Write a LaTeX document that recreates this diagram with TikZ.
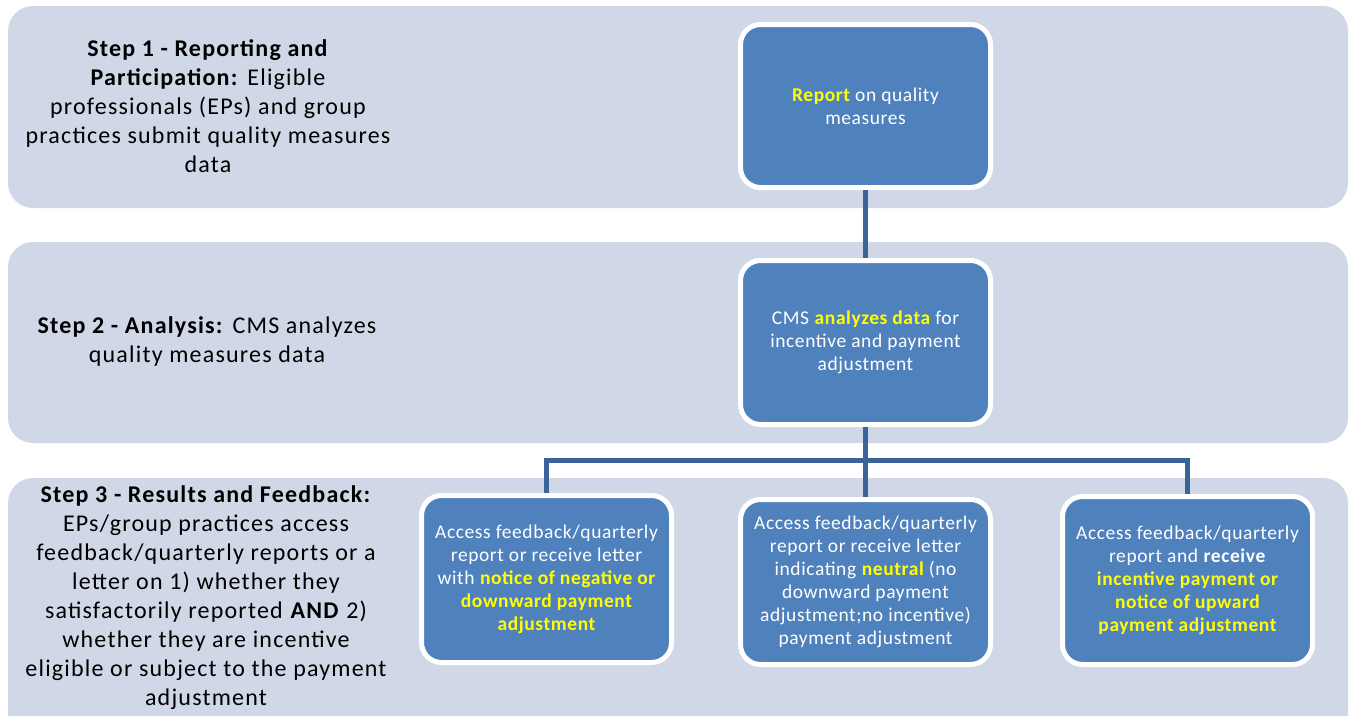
\documentclass[tikz,border=0pt]{standalone}
\usepackage{fontspec}
\setmainfont{Carlito}
\newfontfamily\bandfont[LetterSpace=5]{Carlito}
\newfontfamily\boxfont[LetterSpace=3]{Carlito}
\definecolor{bandfill}{HTML}{D0D8E7}
\definecolor{boxfill}{HTML}{4F81BD}
\definecolor{connblue}{HTML}{3A6497}
\definecolor{hlyellow}{HTML}{FFFF00}
\newcommand{\yb}[1]{\textbf{\textcolor{hlyellow}{#1}}}
\tikzset{
  band/.style={fill=bandfill, draw=none, rounded corners=25pt},
  bandtext/.style={align=center, font=\bandfont\fontsize{24}{29}\selectfont, text=black, inner sep=0pt},
  stepbox/.style={rectangle, fill=boxfill, draw=white, line width=5pt, rounded corners=20pt,
    minimum width=250pt, align=center, text=white, font=\boxfont\fontsize{19.5}{23}\selectfont},
  conn/.style={draw=connblue, line width=5pt}
}
\begin{document}
\begin{tikzpicture}[x=1pt,y=-1pt]
\useasboundingbox (0,0) rectangle (1351,715);
\fill[white] (0,0) rectangle (1351,715);
\begin{scope}
\clip (0,0) rectangle (1351,715);
\fill[band] (8,6) rectangle (1348,208);
\fill[band] (8,242) rectangle (1348,443);
\fill[band] (8,478) rectangle (1348,760);
\end{scope}

\node[bandtext] (t1) at (208,106) {\textbf{Step 1 - Reporting and}\\\textbf{Participation:} Eligible\\professionals (EPs) and group\\practices submit quality measures\\data};
\node[bandtext] (t2) at (207,342) {\textbf{Step 2 - Analysis:} CMS analyzes\\quality measures data};
\node[bandtext] (t3) at (206,598) {\textbf{Step 3 - Results and Feedback:}\\EPs/group practices access\\feedback/quarterly reports or a\\letter on 1) whether they\\satisfactorily reported \textbf{AND} 2)\\whether they are incentive\\eligible or subject to the payment\\adjustment};

\node[stepbox, minimum height=163pt] (b1) at (865.5,106) {\yb{Report} on quality\\measures};
\node[stepbox, minimum height=164pt] (b2) at (865.5,342.5) {CMS \yb{analyzes data} for\\incentive and payment\\adjustment};
\node[stepbox, minimum height=167pt] (c1) at (546.5,579) {Access feedback/quarterly\\report or receive letter\\with \yb{notice of negative or}\\\yb{downward payment}\\\yb{adjustment}};
\node[stepbox, minimum height=165pt] (c2) at (865.5,582) {Access feedback/quarterly\\report or receive letter\\indicating \yb{neutral} (no\\downward payment\\adjustment;no incentive)\\payment adjustment};
\node[stepbox, minimum height=168pt] (c3) at (1187.5,580.5) {Access feedback/quarterly\\report and \textbf{receive}\\\yb{incentive payment or}\\\yb{notice of upward}\\\yb{payment adjustment}};

\coordinate (j) at (865.5,460);
\draw[conn] (b1.south) -- (b2.north);
\draw[conn] (b2.south) -- (j);
\draw[conn] (j) -| (c1.north);
\draw[conn] (j) -| (c3.north);
\draw[conn] (j) -- (c2.north);
\end{tikzpicture}
\end{document}
